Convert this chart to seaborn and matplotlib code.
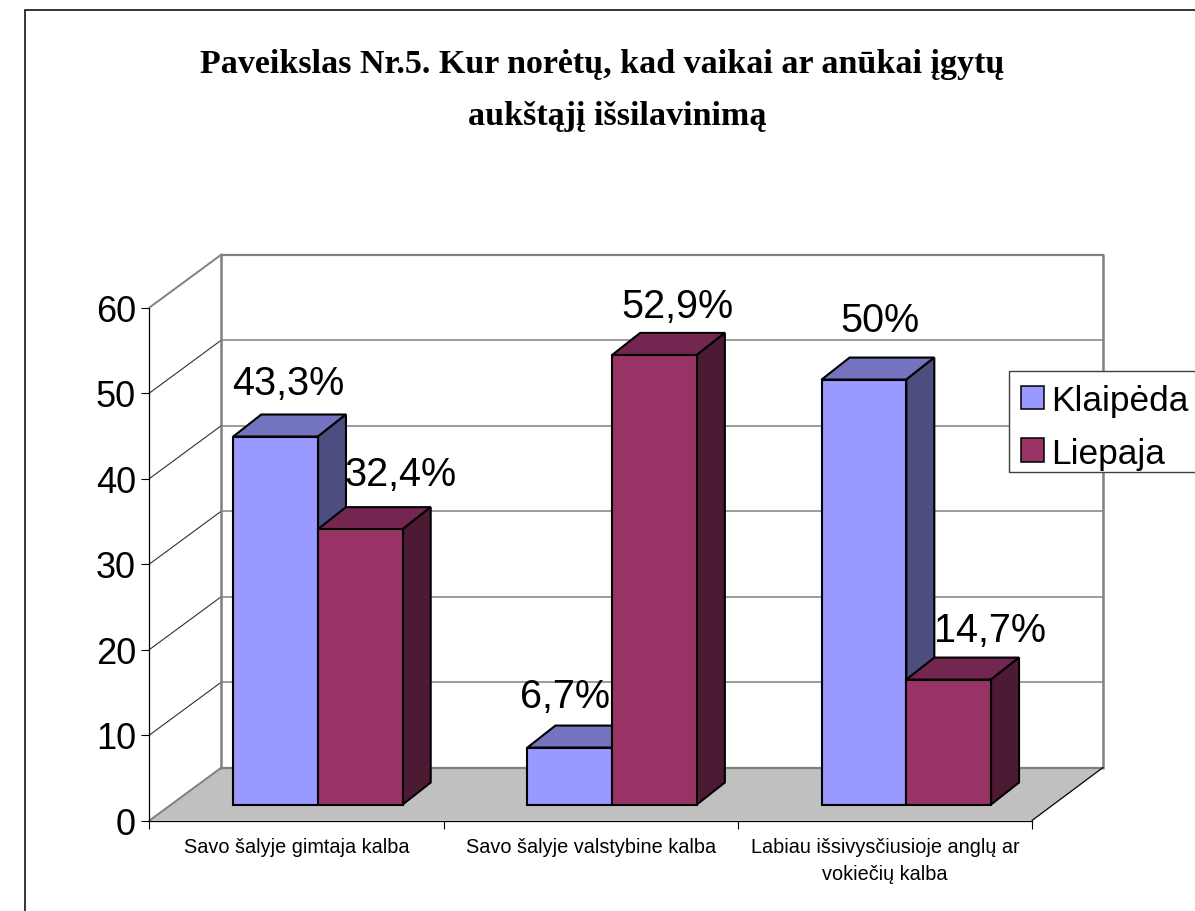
import pandas as pd
import matplotlib
matplotlib.use("Agg")
import matplotlib.pyplot as plt
import seaborn as sns
from matplotlib.patches import Polygon, Patch, Rectangle
from matplotlib.lines import Line2D
from matplotlib.transforms import Affine2D, IdentityTransform

categories = ["Savo šalyje gimtaja kalba", "Savo šalyje valstybine kalba",
              "Labiau išsivysčiusioje anglų ar\nvokiečių kalba"]
klaipeda = [43.3, 6.7, 50]
liepaja = [32.4, 52.9, 14.7]
series = ["Klaipėda", "Liepaja"]
y_ticks = [0, 10, 20, 30, 40, 50, 60]
title = "Paveikslas Nr.5. Kur norėtų, kad vaikai ar anūkai įgytų\naukštąjį išsilavinimą"

W, H = 1195, 912
colors = {"Klaipėda": "#9999FF", "Liepaja": "#993366"}
top_colors = {"Klaipėda": "#7373BF", "Liepaja": "#732650"}
side_colors = {"Klaipėda": "#4D4D80", "Liepaja": "#4D1A33"}

# label offsets from the bar's centre top, in pixels
label_nudge = {"Klaipėda": [(13, 54), (-5, 52), (16, 60)],
               "Liepaja": [(40, 55), (23, 49), (41, 50)]}

df = pd.DataFrame({
    "kat": categories * 2,
    "serija": [series[0]] * 3 + [series[1]] * 3,
    "reiksme": klaipeda + liepaja,
})

sns.set_theme(style="white")
plt.rcParams["font.family"] = ["Liberation Sans", "DejaVu Sans"]

fig = plt.figure(figsize=(W / 100, H / 100), dpi=100)
ax = fig.add_axes([149.5 / W, (H - 821.5) / H, 882.5 / W, 513 / H])
ax.patch.set_visible(False)

sns.barplot(data=df, x="kat", y="reiksme", hue="serija", palette=colors, width=0.576,
            gap=0, legend=False, ax=ax, saturation=1)
ax.set_xlim(-0.5, 2.5)
ax.set_ylim(0, 60)
ax.set_xlabel("")
ax.set_ylabel("")
fig.canvas.draw()

# wall and floor, worked out from the front plane of the axes
depth = (72, 53)
x0, y0 = ax.transData.transform((-0.5, 0))
x1, y1 = ax.transData.transform((2.5, 60))
px = IdentityTransform()
floor = [(x0, y0), (x0 + depth[0], y0 + depth[1]), (x1 + depth[0] - 1, y0 + depth[1]), (x1, y0)]
ax.add_patch(Polygon(floor, closed=True, fc="#C0C0C0", ec="none", transform=px, clip_on=False, zorder=1))
wall = dict(color="#808080", transform=px, clip_on=False, zorder=1.5)
for t in y_ticks:
    _, y = ax.transData.transform((0, t))
    edge_line = t in (y_ticks[0], y_ticks[-1])
    ax.add_line(Line2D([x0 + depth[0], x1 + depth[0] - 1], [y + depth[1], y + depth[1]],
                       lw=1.6 if edge_line else 1.1, **wall))
    if edge_line:
        ax.add_line(Line2D([x0, x0 + depth[0]], [y, y + depth[1]], lw=1.4, **wall))
    else:
        ax.add_line(Line2D([x0, x0 + depth[0]], [y, y + depth[1]], lw=0.8, color="#303030", transform=px,
                           clip_on=False, zorder=1.5))
ax.add_line(Line2D([x0 + depth[0]] * 2, [y0 + depth[1], y1 + depth[1]], lw=1.8, **wall))
ax.add_line(Line2D([x1 + depth[0] - 1] * 2, [y0 + depth[1], y1 + depth[1]], lw=1.8, **wall))
ax.add_line(Line2D([x1, x1 + depth[0] - 1], [y0, y0 + depth[1]], lw=0.9, color="black", transform=px,
                   clip_on=False, zorder=1.6))

# bars, moved back from the front plane, with top and side faces
shift = Affine2D().translate(21.4, -y0).scale(1, 0.994).translate(0, y0 + 16)
bar_depth = (28, 22)
edge = dict(ec="black", lw=1.5, transform=px, clip_on=False)
for i, name in enumerate(series):
    z = 3 + i
    for j, p in enumerate(ax.containers[i]):
        p.set_transform(ax.transData + shift)
        p.set_clip_on(False)
        p.set_edgecolor("black")
        p.set_linewidth(1.5)
        p.set_zorder(z + 0.2)
        (xa, ya), (xb, yb) = (ax.transData + shift).transform(
            [(p.get_x(), 0), (p.get_x() + p.get_width(), p.get_height())])
        dx, dy = bar_depth
        ax.add_patch(Polygon([(xa, yb), (xa + dx, yb + dy), (xb + dx, yb + dy), (xb, yb)],
                             fc=top_colors[name], zorder=z, **edge))
        ax.add_patch(Polygon([(xb, ya), (xb + dx, ya + dy), (xb + dx, yb + dy), (xb, yb)],
                             fc=side_colors[name], zorder=z, **edge))
        nx, ny = label_nudge[name][j]
        label = f"{p.get_height():g}".replace(".", ",") + "%"
        ax.text((xa + xb) / 2 + nx, yb + ny, label, transform=px, ha="center", va="center",
                fontsize=28.5, color="black", clip_on=False, zorder=6)

# axes
for s in ("top", "right"):
    ax.spines[s].set_visible(False)
for s in ("left", "bottom"):
    ax.spines[s].set_color("black")
    ax.spines[s].set_linewidth(0.9)
    ax.spines[s].set_zorder(2)
ax.set_yticks(y_ticks)
ax.tick_params(axis="y", left=True, length=5.8, width=0.8, color="black", pad=4, labelsize=26, labelcolor="black")
ax.set_xticks(range(3), categories)
ax.set_xticks([-0.5, 0.5, 1.5, 2.5], minor=True)
ax.tick_params(axis="x", which="major", bottom=False, pad=6, labelsize=14.3, labelcolor="black")
ax.tick_params(axis="x", which="minor", bottom=True, length=5.8, width=0.8, color="black")
for t in ax.get_xticklabels():
    t.set_linespacing(1.55)

lines = title.split("\n")
fig.text(602.5 / W, 1 - 64.5 / H, lines[0], ha="center", va="center", family="Liberation Serif",
         fontweight="bold", fontsize=24.5, color="black")
fig.text(617 / W, 1 - 117 / H, lines[1], ha="center", va="center", family="Liberation Serif",
         fontweight="bold", fontsize=24.5, color="black")

# outer chart frame runs off the right and bottom edges
fig.add_artist(Rectangle((25, -20), W + 50, H - 11 + 20, fc="none", ec="black", lw=1.1, transform=px))

# legend box reaches past the figure edge
ax.add_patch(Rectangle((1009, H - 473), 230, 101, fc="white", ec="#404040", lw=1.0, transform=px,
                       clip_on=False, zorder=6.5))
handles = [Patch(fc=colors[n], ec="black", lw=1.1, label=n) for n in series]
leg = ax.legend(handles=handles, loc="upper left", bbox_to_anchor=(1012 / W, 1 - 376 / H),
                bbox_transform=fig.transFigure, frameon=False, fontsize=25.4, labelcolor="black",
                handlelength=0.65, handleheight=0.65, handletextpad=0.2, borderpad=0.25,
                borderaxespad=0, labelspacing=0.56)
leg.set_zorder(7)

fig.savefig("out.png", dpi=100)
